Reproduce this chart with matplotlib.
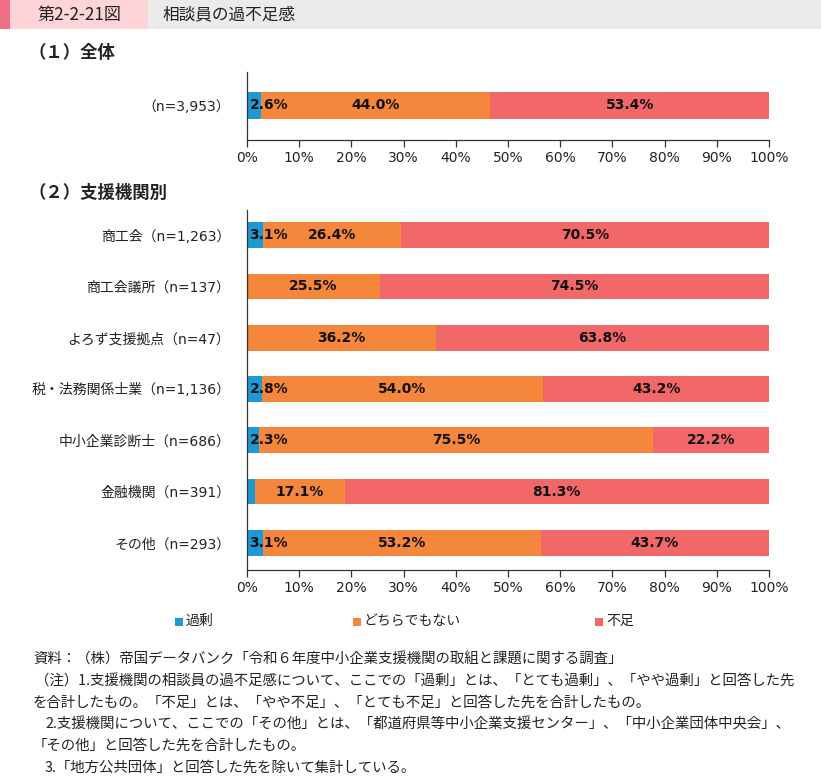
import matplotlib
matplotlib.use("Agg")
import matplotlib.pyplot as plt
from matplotlib.patches import Rectangle
import numpy as np

plt.rcParams['font.family'] = ['Noto Sans CJK JP', 'DejaVu Sans']
LATIN_FIRST = ['DejaVu Sans', 'Noto Sans CJK JP']

# ---- data ----
series_names = ["過剰", "どちらでもない", "不足"]
colors = ["#1f98d6", "#f5873c", "#f26868"]

total_label = ["（n=3,953）"]
total_surplus = [2.6]
total_neutral = [44.0]
total_short = [53.4]

org_labels = ["商工会（n=1,263）", "商工会議所（n=137）", "よろず支援拠点（n=47）",
              "税・法務関係士業（n=1,136）", "中小企業診断士（n=686）",
              "金融機関（n=391）", "その他（n=293）"]
org_surplus = [3.1, 0.0, 0.0, 2.8, 2.3, 1.6, 3.1]
org_neutral = [26.4, 25.5, 36.2, 54.0, 75.5, 17.1, 53.2]
org_short = [70.5, 74.5, 63.8, 43.2, 22.2, 81.3, 43.7]
show_surplus_label = [True, False, False, True, True, False, True]

xticks = list(range(0, 101, 10))
xtick_labels = [f"{v}%" for v in xticks]

W, H = 821, 776
fig = plt.figure(figsize=(W / 100, H / 100), dpi=100)


def px_axes(left, top, right, bottom):
    return fig.add_axes([left / W, 1 - bottom / H, (right - left) / W, (bottom - top) / H])


def ftext(x, y, s, **kw):
    fig.text(x / W, 1 - y / H, s, **kw)


# header
fig.patches.append(Rectangle((0, 1 - 29 / H), 148 / W, 29 / H, transform=fig.transFigure,
                             facecolor="#fdd5d9", edgecolor="none"))
fig.patches.append(Rectangle((0, 1 - 29 / H), 10 / W, 29 / H, transform=fig.transFigure,
                             facecolor="#ef6f86", edgecolor="none"))
fig.patches.append(Rectangle((148 / W, 1 - 29 / H), (W - 148) / W, 29 / H, transform=fig.transFigure,
                             facecolor="#ebebeb", edgecolor="none"))
ftext(37, 15, "第2-2-21図", fontsize=12.3, va="center", ha="left", color="#222222")
ftext(163, 15, "相談員の過不足感", fontsize=12, va="center", ha="left", color="#222222")

ftext(29, 53, "（１）全体", fontsize=12.5, fontweight="bold", va="center", ha="left", color="#222222")
ftext(29, 193, "（２）支援機関別", fontsize=12.5, fontweight="bold", va="center", ha="left", color="#222222")


def style_axes(ax):
    ax.set_xlim(0, 100)
    ax.set_xticks(xticks)
    ax.set_xticklabels(xtick_labels, fontsize=10, color="#222222", family=LATIN_FIRST)
    ax.tick_params(axis="x", length=5, width=0.9, color="#333333", pad=3)
    ax.tick_params(axis="y", length=0, pad=12)
    for lab in ax.get_yticklabels():
        lab.set_family(LATIN_FIRST)
        lab.set_fontsize(10)
        lab.set_color("#222222")
    for s in ["top", "right"]:
        ax.spines[s].set_visible(False)
    for s in ["left", "bottom"]:
        ax.spines[s].set_color("#333333")
        ax.spines[s].set_linewidth(0.9)


def draw(ax, labels, a, b, c, show_a, height):
    y = np.arange(len(labels))
    a = np.array(a); b = np.array(b); c = np.array(c)
    ax.barh(y, a, height=height, color=colors[0], label=series_names[0])
    ax.barh(y, b, left=a, height=height, color=colors[1], label=series_names[1])
    ax.barh(y, c, left=a + b, height=height, color=colors[2], label=series_names[2])
    kw = dict(va="center", fontsize=10, fontweight="bold", color="#111111", family=LATIN_FIRST)
    for i in range(len(labels)):
        if show_a[i] and a[i] > 0:
            ax.text(0.5, y[i], f"{a[i]:.1f}%", ha="left", **kw)
        ax.text(a[i] + b[i] / 2, y[i], f"{b[i]:.1f}%", ha="center", **kw)
        ax.text(a[i] + b[i] + c[i] / 2, y[i], f"{c[i]:.1f}%", ha="center", **kw)
    ax.set_yticks(y)
    ax.set_yticklabels(labels)


ax1 = px_axes(247, 72, 769, 140)
draw(ax1, total_label, total_surplus, total_neutral, total_short, [True], 0.53)
ax1.set_ylim(-0.68, 0.66)
style_axes(ax1)

ax2 = px_axes(247, 210, 769, 570)
draw(ax2, org_labels, org_surplus, org_neutral, org_short, show_surplus_label, 0.5)
ax2.set_ylim(6.53, -0.49)
style_axes(ax2)

# legend
leg_x = [175, 353, 595]
for xx, name, col in zip(leg_x, series_names, colors):
    fig.patches.append(Rectangle((xx / W, 1 - 626 / H), 8 / W, 8 / H, transform=fig.transFigure,
                                 facecolor=col, edgecolor="none"))
    ftext(xx + 11, 621, name, fontsize=10, va="center", ha="left", color="#222222")

# notes
notes = [
    (33, 660, "資料：（株）帝国データバンク「令和６年度中小企業支援機関の取組と課題に関する調査」"),
    (35, 682, "（注）1.支援機関の相談員の過不足感について、ここでの「過剰」とは、「とても過剰」、「やや過剰」と回答した先"),
    (33, 703, "を合計したもの。「不足」とは、「やや不足」、「とても不足」と回答した先を合計したもの。"),
    (45, 724, "2.支援機関について、ここでの「その他」とは、「都道府県等中小企業支援センター」、「中小企業団体中央会」、"),
    (33, 746, "「その他」と回答した先を合計したもの。"),
    (45, 768, "3.「地方公共団体」と回答した先を除いて集計している。"),
]
for xx, yy, s in notes:
    ftext(xx, yy, s, fontsize=10.4, va="center", ha="left", color="#222222")

fig.savefig("out.png", dpi=100)
